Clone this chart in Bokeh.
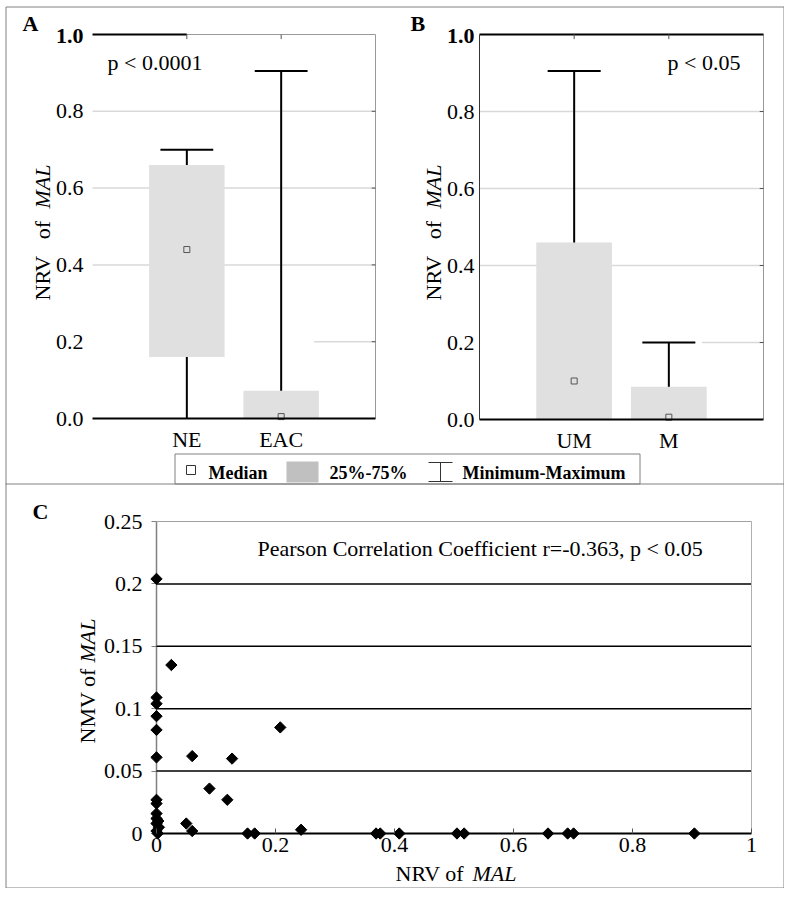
import math
from bokeh.plotting import figure
from bokeh.models import Range1d, FixedTicker, LinearAxis, CustomJSTickFormatter
from bokeh.core.properties import value
from bokeh.embed import file_html
from bokeh.resources import INLINE

SERIF = "Liberation Serif"

# ---------------- data ----------------
a_groups = ["NE", "EAC"]
a_min = [0.0, 0.0]
a_q1 = [0.16, 0.0]
a_median = [0.44, 0.005]
a_q3 = [0.66, 0.072]
a_max = [0.70, 0.905]
a_p_text = "p < 0.0001"

b_groups = ["UM", "M"]
b_min = [0.0, 0.0]
b_q1 = [0.0, 0.0]
b_median = [0.10, 0.006]
b_q3 = [0.46, 0.085]
b_max = [0.905, 0.20]
b_p_text = "p < 0.05"

box_y_ticks = [0.0, 0.2, 0.4, 0.6, 0.8, 1.0]
box_grid = [0.4, 0.6, 0.8]
box_y_title = ["NRV\u00a0\u00a0\u00a0of", "MAL"]

nrv = [0.0, 0.025, 0.0, 0.0, 0.0, 0.0, 0.208, 0.0, 0.060, 0.127, 0.089, 0.119,
       0.0, 0.0, 0.0, 0.0, 0.003, 0.0, 0.004, 0.0, 0.002, 0.050, 0.060, 0.153,
       0.165, 0.243, 0.369, 0.376, 0.408, 0.505, 0.517, 0.658, 0.691, 0.701, 0.904]
nmv = [0.204, 0.135, 0.109, 0.104, 0.094, 0.083, 0.085, 0.061, 0.062, 0.060, 0.036, 0.027,
       0.027, 0.024, 0.016, 0.012, 0.010, 0.008, 0.005, 0.002, 0.000, 0.008, 0.002, 0.000,
       0.000, 0.003, 0.000, 0.000, 0.000, 0.000, 0.000, 0.000, 0.000, 0.000, 0.000]
c_x_ticks = [0.0, 0.2, 0.4, 0.6, 0.8, 1.0]
c_y_ticks = [0.0, 0.05, 0.1, 0.15, 0.2, 0.25]
c_grid = [0.05, 0.1, 0.15, 0.2]
c_note = "Pearson Correlation Coefficient r=-0.363, p < 0.05"
c_x_title = ["NRV of", "MAL"]
c_y_title = ["NMV of", "MAL"]

legend_labels = ["Median", "25%-75%", "Minimum-Maximum"]

BOX_FILL = "#e0e0e0"
GRID = "#d9d9d9"
FS = "22px"

# ---------------- canvas (pixel coordinates of the picture) ----------------
W, H = 784, 888
X0, Y0 = 0, 0


def x_map(p_lo, p_hi, v_lo, v_hi):
    s = (p_hi - p_lo) / (v_hi - v_lo)
    start = v_lo - (p_lo - X0) / s
    return Range1d(start=start, end=start + W / s)


def y_map(p_lo, p_hi, v_lo, v_hi):
    s = (p_lo - p_hi) / (v_hi - v_lo)
    start = v_lo - (Y0 + H - p_lo) / s
    return Range1d(start=start, end=start + H / s)


p = figure(width=W, height=H, x_range=Range1d(X0, X0 + W), y_range=Range1d(Y0 + H, Y0),
           min_border=0, x_axis_location=None, y_axis_location=None,
           output_backend="svg", toolbar_location=None)
p.outline_line_color = None
p.background_fill_color = "white"
p.border_fill_color = "white"
for g in p.grid:
    g.visible = False

p.extra_x_ranges = {"ax": x_map(92, 375, 0, 3), "bx": x_map(479, 763, 0, 3),
                    "cx": x_map(156, 751, 0, 1)}
p.extra_y_ranges = {"ay": y_map(418, 34, 0, 1), "by": y_map(419, 34, 0, 1),
                    "cy": y_map(833, 521, 0, 0.25)}


def txt(x, y, t, size=FS, style="normal", align="left", angle=0.0):
    p.text(x=[x], y=[y], text=[t], text_font=value(SERIF), text_font_size=size,
           text_font_style=style, text_align=align, text_baseline="middle",
           angle=angle, text_color="black")


def box_panel(rx, ry, groups, mins, q1, med, q3, maxs, opts):
    kw = dict(x_range_name=rx, y_range_name=ry)
    n = len(groups)
    xs = [i + 1 for i in range(n)]
    xe = n + 1
    # grid
    p.segment(x0=[0] * len(box_grid), y0=box_grid, x1=[xe] * len(box_grid), y1=box_grid,
              line_color=GRID, line_width=1.5, level="underlay", **kw)
    p.segment(x0=[2.35], y0=[0.2], x1=[xe], y1=[0.2], line_color=GRID, line_width=1.5,
              level="underlay", **kw)
    # boxes, whiskers, medians
    p.vbar(x=xs, width=0.8, bottom=q1, top=q3, fill_color=BOX_FILL, line_color=None, **kw)
    p.segment(x0=xs, y0=mins, x1=xs, y1=q1, line_color="black", line_width=2, **kw)
    p.segment(x0=xs, y0=q3, x1=xs, y1=maxs, line_color="black", line_width=2, **kw)
    p.segment(x0=[x - 0.28 for x in xs], y0=maxs, x1=[x + 0.28 for x in xs], y1=maxs,
              line_color="black", line_width=2, **kw)
    p.scatter(x=xs, y=med, marker="square", size=6, fill_color=None,
              line_color="#555555", line_width=1, **kw)
    # frame: right border with inner ticks, top border with inner ticks
    inner = box_y_ticks[1:-1]
    p.segment(x0=[xe], y0=[0], x1=[xe], y1=[1], line_color="#999999", line_width=1, **kw)
    p.segment(x0=[xe - 0.04] * len(inner), y0=inner, x1=[xe] * len(inner), y1=inner,
              line_color="#555555", line_width=1, **kw)
    if opts["top_black"]:
        p.segment(x0=[0], y0=[1], x1=[1], y1=[1], line_color="black", line_width=2, **kw)
        p.segment(x0=[1], y0=[1], x1=[xe], y1=[1], line_color="#999999", line_width=1, **kw)
    else:
        p.segment(x0=[0], y0=[1], x1=[xe], y1=[1], line_color="black", line_width=2, **kw)
    p.segment(x0=xs, y0=[1] * n, x1=xs, y1=[0.988] * n, line_color="#555555",
              line_width=1, **kw)
    # axes
    xa = LinearAxis(x_range_name=rx, y_range_name=ry, fixed_location=0, bounds=(0, xe),
                    ticker=FixedTicker(ticks=xs),
                    major_label_overrides={x: g for x, g in zip(xs, groups)},
                    axis_line_color="black", axis_line_width=2,
                    major_tick_in=0, major_tick_out=0, minor_tick_line_color=None,
                    major_label_standoff=8, major_label_text_font=SERIF,
                    major_label_text_font_size=FS, major_label_text_color="black")
    p.add_layout(xa, "below")
    ya = LinearAxis(x_range_name=rx, y_range_name=ry, fixed_location=0, bounds=(0, 1),
                    ticker=FixedTicker(ticks=box_y_ticks[:-1]),
                    formatter=CustomJSTickFormatter(code="return tick.toFixed(1);"),
                    axis_line_color=opts["left_line"], axis_line_width=1,
                    major_tick_in=0, major_tick_out=0, minor_tick_line_color=None,
                    major_label_standoff=opts["standoff"], major_label_text_font=SERIF,
                    major_label_text_font_size=FS, major_label_text_color="black")
    p.add_layout(ya, "left")


box_panel("ax", "ay", a_groups, a_min, a_q1, a_median, a_q3, a_max,
          dict(top_black=True, left_line=None, standoff=9))
box_panel("bx", "by", b_groups, b_min, b_q1, b_median, b_q3, b_max,
          dict(top_black=False, left_line="#333333", standoff=5))

# texts of panels A and B
txt(83, 35, "1.0", style="bold", align="right")
txt(474, 35, "1.0", style="bold", align="right")
txt(22, 23, "A", style="bold")
txt(410, 23, "B", style="bold")
txt(107, 62, a_p_text)
txt(667, 62, b_p_text)
txt(42, 300, box_y_title[0], angle=math.pi / 2)
txt(42, 208, box_y_title[1], style="italic", angle=math.pi / 2)
txt(433, 300, box_y_title[0], angle=math.pi / 2)
txt(433, 208, box_y_title[1], style="italic", angle=math.pi / 2)

# ---------------- outer frame + legend ----------------
p.quad(left=[5.5], right=[783.5], top=[6.5], bottom=[887.5], fill_color=None,
       line_color="#808080", line_width=1)
p.segment(x0=[5], y0=[483.5], x1=[784], y1=[483.5], line_color="#808080", line_width=1)
p.quad(left=[174.5], right=[639.5], top=[453.5], bottom=[483.5], fill_color=None,
       line_color="#808080", line_width=1)
p.scatter(x=[190.5], y=[469.5], marker="square", size=9, fill_color="white",
          line_color="#333333", line_width=1)
p.quad(left=[286], right=[318], top=[461], bottom=[482], fill_color="#c0c0c0", line_color=None)
p.segment(x0=[440, 428, 428], y0=[462, 462, 481], x1=[440, 452, 452], y1=[481, 462, 481],
          line_color="#333333", line_width=1)
p.text(x=[208, 329, 462], y=[472, 472, 472], text=legend_labels, text_font=value(SERIF),
       text_font_style="bold", text_font_size="18px", text_baseline="middle",
       text_color="black")

# ---------------- panel C ----------------
ckw = dict(x_range_name="cx", y_range_name="cy")
p.segment(x0=[0] * len(c_grid), y0=c_grid, x1=[1] * len(c_grid), y1=c_grid,
          line_color="black", line_width=1.5, **ckw)
p.segment(x0=[0], y0=[0.25], x1=[1], y1=[0.25], line_color="#a0a0a0", line_width=1, **ckw)
p.segment(x0=[1], y0=[0], x1=[1], y1=[0.25], line_color="#b0b0b0", line_width=1, **ckw)

cya = LinearAxis(x_range_name="cx", y_range_name="cy", fixed_location=0, bounds=(0, 0.25),
                 ticker=FixedTicker(ticks=c_y_ticks),
                 formatter=CustomJSTickFormatter(code="return String(Math.round(tick*100)/100);"),
                 axis_line_color="#808080", axis_line_width=1.5,
                 major_tick_in=0, major_tick_out=5, major_tick_line_color="#808080",
                 minor_tick_line_color=None, major_label_standoff=9,
                 major_label_text_font=SERIF, major_label_text_font_size=FS,
                 major_label_text_color="black", level="underlay")
p.add_layout(cya, "left")
cxa = LinearAxis(x_range_name="cx", y_range_name="cy", fixed_location=0, bounds=(0, 1),
                 ticker=FixedTicker(ticks=c_x_ticks),
                 formatter=CustomJSTickFormatter(code="return String(Math.round(tick*10)/10);"),
                 axis_line_color="black", axis_line_width=2,
                 major_tick_in=5, major_tick_out=0, major_tick_line_color="#555555",
                 minor_tick_line_color=None, major_label_standoff=4,
                 major_label_text_font=SERIF, major_label_text_font_size=FS,
                 major_label_text_color="black")
p.add_layout(cxa, "below")

p.scatter(x=nrv, y=nmv, marker="square", angle=math.pi / 4, size=8, color="black", **ckw)

txt(32, 511, "C", style="bold")
txt(257, 548, c_note)
txt(395, 873, c_x_title[0])
txt(472, 873, c_x_title[1], style="italic")
txt(87, 743, c_y_title[0], angle=math.pi / 2)
txt(87, 662, c_y_title[1], style="italic", angle=math.pi / 2)

open("out.html", "w").write(file_html(p, INLINE))
